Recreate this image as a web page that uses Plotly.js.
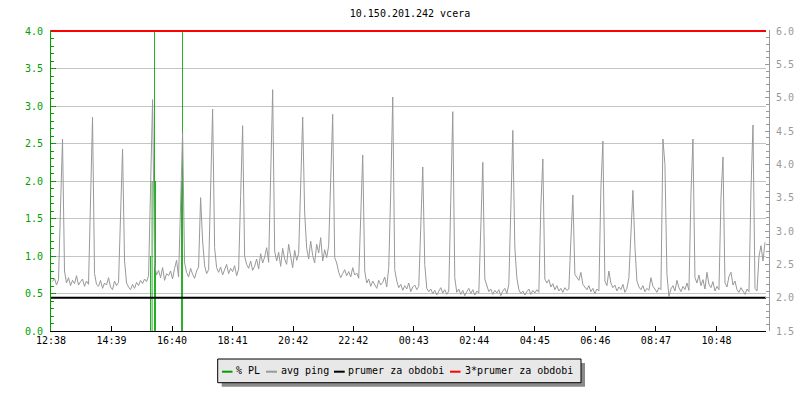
<!DOCTYPE html>
<html>
<head>
<meta charset="utf-8">
<script src="https://cdn.plot.ly/plotly-3.0.1.min.js"></script>
<style>html,body{margin:0;padding:0;background:#fff;}#chart{width:800px;height:400px;}</style>
</head>
<body>
<div id="chart"></div>
<script>
// ---- data (minutes after 12:38 of the previous day) ----
const periodStart = 0;
const periodEnd = 1429;
const sampleStart = 3;
const sampleStep = 4;

// avg ping [ms], one sample every 4 minutes
const avgPing = [
  2.24, 2.29, 2.19, 2.27, 3.34,
  4.38, 2.40, 2.22, 2.30, 2.18, 2.26, 2.21, 2.33, 2.19, 2.24, 2.28, 2.17, 2.25, 2.20, 3.51,
  4.71, 2.36, 2.20, 2.17, 2.26, 2.14, 2.22, 2.19, 2.30, 2.16, 2.12, 2.25, 2.18, 2.23, 3.40,
  4.23, 2.55, 2.22, 2.16, 2.12, 2.20, 2.14, 2.23, 2.18, 2.26, 2.21, 2.28, 2.24, 2.33, 3.74,
  4.97, 2.50, 2.34, 2.41, 2.30, 2.45, 2.26, 2.36, 2.33, 2.40, 2.28, 2.44, 2.56, 2.31, 3.39,
  4.47, 2.52, 2.38, 2.31, 2.44, 2.35, 2.29, 2.40, 2.46, 3.50, 2.85, 2.48, 2.36, 2.42, 3.64,
  4.83, 2.75, 2.45, 2.38, 2.46, 2.34, 2.42, 2.50, 2.36, 2.44, 2.39, 2.48, 2.33, 2.43, 3.52,
  4.58, 2.62, 2.50, 2.44, 2.55, 2.41, 2.47, 2.58, 2.43, 2.66, 2.52, 2.61, 2.75, 2.53, 3.96,
  5.12, 2.70, 2.55, 2.68, 2.47, 2.74, 2.58, 2.50, 2.80, 2.62, 2.45, 2.71, 2.56, 2.66, 3.69,
  4.71, 3.27, 2.74, 2.58, 2.85, 2.63, 2.52, 2.80, 2.67, 2.90, 2.55, 2.72, 2.60, 2.78, 3.66,
  4.75, 2.60, 2.52, 2.38, 2.30, 2.36, 2.42, 2.33, 2.39, 2.31, 2.45, 2.34, 2.37, 2.29, 3.30,
  4.14, 2.40, 2.22, 2.28, 2.17, 2.25, 2.20, 2.14, 2.26, 2.19, 2.23, 2.31, 2.16, 2.45, 3.60,
  5.01, 2.42, 2.25, 2.15, 2.20, 2.11, 2.18, 2.13, 2.22, 2.09, 2.16, 2.19, 2.12, 2.17, 3.19,
  3.96, 2.50, 2.14, 2.09, 2.13, 2.06, 2.11, 2.04, 2.10, 2.15, 2.07, 2.12, 2.05, 2.10, 3.46,
  4.79, 2.30, 2.08, 2.13, 2.05, 2.11, 2.03, 2.09, 2.14, 2.06, 2.12, 2.04, 2.10, 2.07, 3.22,
  4.03, 2.28, 2.18, 2.09, 2.13, 2.05, 2.11, 2.07, 2.12, 2.03, 2.10, 2.14, 2.06, 2.20, 3.33,
  4.51, 2.76, 2.30, 2.12, 2.06, 2.10, 2.04, 2.09, 2.13, 2.05, 2.11, 2.07, 2.12, 2.08, 3.36,
  4.08, 2.28, 2.22, 2.27, 2.16, 2.21, 2.12, 2.18, 2.10, 2.14, 2.08, 2.15, 2.11, 2.13, 2.86,
  3.54, 2.35, 2.30, 2.26, 2.38, 2.20, 2.16, 2.12, 2.18, 2.09, 2.14, 2.06, 2.13, 2.10, 3.63,
  4.35, 2.25, 2.18, 2.40, 2.22, 2.15, 2.19, 2.10, 2.16, 2.12, 2.20, 2.08, 2.14, 2.30, 2.87,
  3.61, 2.77, 2.25, 2.16, 2.12, 2.18, 2.09, 2.14, 2.11, 2.30, 2.17, 2.13, 2.08, 2.15, 2.12,
  4.38, 4.00, 2.35, 2.02, 2.13, 2.18, 2.10, 2.26, 2.15, 2.09, 2.17, 2.12, 2.22, 2.11, 3.55,
  4.38, 2.30, 2.22, 2.34, 2.18, 2.27, 2.13, 2.38, 2.20, 2.15, 2.24, 2.10, 2.17, 2.12, 3.50,
  4.11, 2.22, 2.16, 2.32, 2.38, 2.19, 2.25, 2.12, 2.08, 2.15, 2.10, 2.05, 2.13, 2.09, 3.63,
  4.59, 2.14, 2.10, 2.62, 2.78, 2.55, 2.83
];

// packet loss [%]
const plMinutes = [199, 202, 207, 209, 261, 263];
const plValues  = [1.0, 2.0, 4.0, 2.0, 2.0, 4.0];

// average over the period [ms]
const prumer = 2.0;
const prumer3 = 3 * prumer;

const tickMinutes = [0, 121, 242, 363, 484, 604, 725, 846, 967, 1088, 1209, 1330];
const tickLabels  = ['12:38','14:39','16:40','18:41','20:42','22:42','00:43','02:44','04:45','06:46','08:47','10:48'];

const seriesNames = ['% PL', 'avg ping', 'prumer za obdobi', '3*prumer za obdobi'];
const seriesColors = ['#00a000', '#999999', '#000000', '#ff0000'];

// ---- drawing ----
const times = avgPing.map((_, i) => sampleStart + i * sampleStep);
const FONT = 'DejaVu Sans Mono';

const traces = [
  {type: 'bar', x: plMinutes, y: plValues, width: 1.7, yaxis: 'y',
   marker: {color: seriesColors[0], line: {width: 0}}, name: seriesNames[0], showlegend: false},
  {type: 'scatter', mode: 'lines', x: times, y: avgPing, yaxis: 'y2',
   line: {color: seriesColors[1], width: 1}, name: seriesNames[1], showlegend: false},
  {type: 'scatter', mode: 'lines', x: [periodStart, periodEnd], y: [prumer, prumer], yaxis: 'y2',
   line: {color: seriesColors[2], width: 2}, name: seriesNames[2], showlegend: false},
  {type: 'scatter', mode: 'lines', x: [periodStart, periodEnd], y: [prumer3, prumer3], yaxis: 'y2',
   line: {color: seriesColors[3], width: 2}, name: seriesNames[3], showlegend: false}
];

// layout geometry (pixels); plot area is 1px taller than the 4.0/6.0 level
// so that the top red line is not clipped away
const ML = 51, MR = 31, MT = 30, MB = 69, W = 800, H = 400;
const PW = W - ML - MR, PH = H - MT - MB;   // PH = 301
const px = x => (x - ML) / PW;
const py = y => (H - MB - y) / PH;
const yTopL = 4 * PH / 300;
const yTopR = 1.5 + 4.5 * PH / 300;

const shapes = [
  {type: 'rect', xref: 'paper', yref: 'paper', x0: px(221.7), x1: px(585), y0: py(386.7), y1: py(363),
   fillcolor: '#8a8a8a', line: {width: 0}, layer: 'above'},
  {type: 'rect', xref: 'paper', yref: 'paper', x0: px(217.7), x1: px(581), y0: py(382.7), y1: py(359),
   fillcolor: '#e8e8e8', line: {color: '#000', width: 1}, layer: 'above'}
];
const legLines = [[222, 232.5], [266, 277], [334, 344.7], [450, 460.5]];
const legTextX = [236.3, 281, 348.3, 465];
const annotations = [];
legLines.forEach((l, i) => {
  shapes.push({type: 'line', xref: 'paper', yref: 'paper', x0: px(l[0]), x1: px(l[1]),
    y0: py(371.7), y1: py(371.7), line: {color: seriesColors[i], width: 2}, layer: 'above'});
  annotations.push({xref: 'paper', yref: 'paper', x: px(legTextX[i] - 2), y: py(370.5),
    xanchor: 'left', yanchor: 'middle', showarrow: false, text: seriesNames[i],
    font: {family: FONT, size: 10, color: '#000'}});
});

const layout = {
  width: W, height: H,
  margin: {l: ML, r: MR, t: MT, b: MB, pad: 0},
  paper_bgcolor: '#fff', plot_bgcolor: '#fff',
  showlegend: false,
  title: {text: '10.150.201.242 vcera', x: 0.5, xref: 'paper', xanchor: 'center',
          y: 1 - 13.5 / H, yref: 'container', yanchor: 'middle',
          font: {family: FONT, size: 10, color: '#000'}},
  xaxis: {range: [periodStart, periodEnd], domain: [0, 715 / PW],
          tickmode: 'array', tickvals: tickMinutes, ticktext: tickLabels,
          ticks: 'inside', ticklen: 5, tickcolor: '#000', tickwidth: 1,
          showline: true, linecolor: '#000', linewidth: 1, showgrid: false, zeroline: false,
          tickfont: {family: FONT, size: 10, color: '#000'}, fixedrange: true},
  yaxis: {range: [0, yTopL], dtick: 0.5, tick0: 0, tickformat: '.1f',
          ticks: 'inside', ticklen: 5, tickcolor: '#00a000', tickwidth: 1,
          showline: true, linecolor: '#00a000', linewidth: 1,
          showgrid: true, gridcolor: '#c4c4c4', gridwidth: 1, zeroline: false,
          minor: {dtick: 0.1, ticks: 'inside', ticklen: 3, tickcolor: '#00a000', showgrid: false},
          tickfont: {family: FONT, size: 10, color: '#00a000'}, ticklabelstandoff: 5, fixedrange: true},
  yaxis2: {overlaying: 'y', side: 'right', anchor: 'free', position: 1,
           range: [1.5, yTopR], dtick: 0.5, tick0: 1.5, tickformat: '.1f',
           ticks: 'inside', ticklen: 4, tickcolor: '#999', tickwidth: 1,
           showline: true, linecolor: '#999', linewidth: 1, showgrid: false, zeroline: false,
           minor: {dtick: 0.1, ticks: 'inside', ticklen: 3, tickcolor: '#999', showgrid: false},
           tickfont: {family: FONT, size: 10, color: '#999'}, ticklabelstandoff: 4, fixedrange: true},
  shapes: shapes,
  annotations: annotations
};

Plotly.newPlot('chart', traces, layout, {displayModeBar: false, staticPlot: true});
</script>
</body>
</html>
